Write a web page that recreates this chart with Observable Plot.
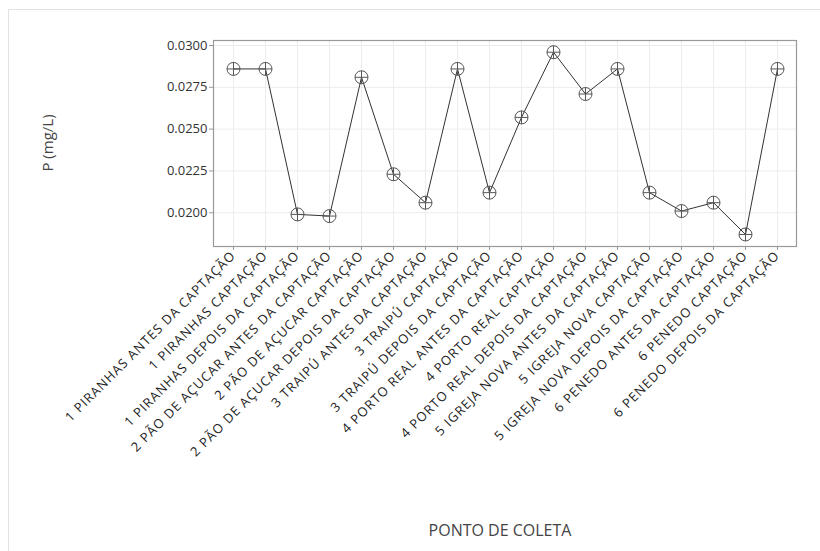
<!DOCTYPE html>
<html>
<head>
<meta charset="utf-8">
<script src="https://cdn.jsdelivr.net/npm/d3@7"></script>
<script src="https://cdn.jsdelivr.net/npm/@observablehq/plot@0.6"></script>
<style>
  html, body { margin: 0; padding: 0; background: #fff; }
  #wrap { position: relative; width: 820px; height: 551px; overflow: hidden; font-family: "Open Sans", "Noto Sans", sans-serif; }
  #frame { position: absolute; left: 8px; top: 9px; width: 830px; height: 560px; border-left: 1.5px solid #e2e2e2; border-top: 1.5px solid #e2e2e2; }
  #chart { position: absolute; left: 0; top: 0; }
  #ytitle { position: absolute; left: 47px; top: 143px; transform: translate(-50%, -50%) rotate(-90deg); font-size: 15px; color: #444; white-space: nowrap; }
  #xtitle { position: absolute; left: 500px; top: 530px; transform: translate(-50%, -50%); font-size: 16px; color: #444; white-space: nowrap; }
  .xax text { letter-spacing: 1px; }
</style>
</head>
<body>
<div id="wrap">
  <div id="frame"></div>
  <div id="chart"></div>
  <div id="ytitle">P (mg/L)</div>
  <div id="xtitle">PONTO DE COLETA</div>
</div>
<script>
const categories = [
  "1 PIRANHAS ANTES DA CAPTAÇÃO",
  "1 PIRANHAS CAPTAÇÃO",
  "1 PIRANHAS DEPOIS DA CAPTAÇÃO",
  "2 PÃO DE AÇUCAR ANTES DA CAPTAÇÃO",
  "2 PÃO DE AÇUCAR CAPTAÇÃO",
  "2 PÃO DE AÇUCAR DEPOIS DA CAPTAÇÃO",
  "3 TRAIPÚ ANTES DA CAPTAÇÃO",
  "3 TRAIPÚ CAPTAÇÃO",
  "3 TRAIPÚ DEPOIS DA CAPTAÇÃO",
  "4 PORTO REAL ANTES DA CAPTAÇÃO",
  "4 PORTO REAL CAPTAÇÃO",
  "4 PORTO REAL DEPOIS DA CAPTAÇÃO",
  "5 IGREJA NOVA ANTES DA CAPTAÇÃO",
  "5 IGREJA NOVA CAPTAÇÃO",
  "5 IGREJA NOVA DEPOIS DA CAPTAÇÃO",
  "6 PENEDO ANTES DA CAPTAÇÃO",
  "6 PENEDO CAPTAÇÃO",
  "6 PENEDO DEPOIS DA CAPTAÇÃO"
];
const pValues = [
  0.0286, 0.0286, 0.0199, 0.0198, 0.0281, 0.0223,
  0.0206, 0.0286, 0.0212, 0.0257, 0.0296, 0.0271,
  0.0286, 0.0212, 0.0201, 0.0206, 0.0187, 0.0286
];
const yTicks = [0.0200, 0.0225, 0.0250, 0.0275, 0.0300];

const data = categories.map((c, i) => ({ponto: c, p: pValues[i]}));

const circlePlus = {
  draw(context, size) {
    const r = Math.sqrt(size / Math.PI);
    context.moveTo(r, 0);
    context.arc(0, 0, r, 0, 2 * Math.PI);
    context.moveTo(-r, 0);
    context.lineTo(r, 0);
    context.moveTo(0, -r);
    context.lineTo(0, r);
  }
};

const chart = Plot.plot({
  width: 820,
  height: 500,
  marginTop: 40,
  marginLeft: 213,
  marginRight: 24,
  marginBottom: 254,
  style: {fontFamily: "'Open Sans', 'Noto Sans', sans-serif", color: "#333", background: "transparent"},
  x: {type: "point", domain: categories, padding: 0.55},
  y: {domain: [0.01798, 0.0303]},
  marks: [
    Plot.gridX(categories, {stroke: "#ececec", strokeOpacity: 1}),
    Plot.gridY(yTicks, {stroke: "#ececec", strokeOpacity: 1}),
    Plot.frame({stroke: "#999", strokeWidth: 1.2}),
    Plot.axisY(yTicks, {tickFormat: d => d.toFixed(4), tickSize: 4, tickPadding: 2, fontSize: 13, label: null, stroke: "#999"}),
    Plot.axisX({tickRotate: -45, tickSize: 4, tickPadding: 3, fontSize: 13, label: null, stroke: "#999", fill: "#222", className: "xax"}),
    Plot.line(data, {x: "ponto", y: "p", stroke: "#333", strokeWidth: 1}),
    Plot.dot(data, {x: "ponto", y: "p", symbol: circlePlus, r: 6.5, stroke: "#555", strokeWidth: 1, fill: "none"})
  ]
});
document.getElementById("chart").appendChild(chart);
</script>
</body>
</html>
